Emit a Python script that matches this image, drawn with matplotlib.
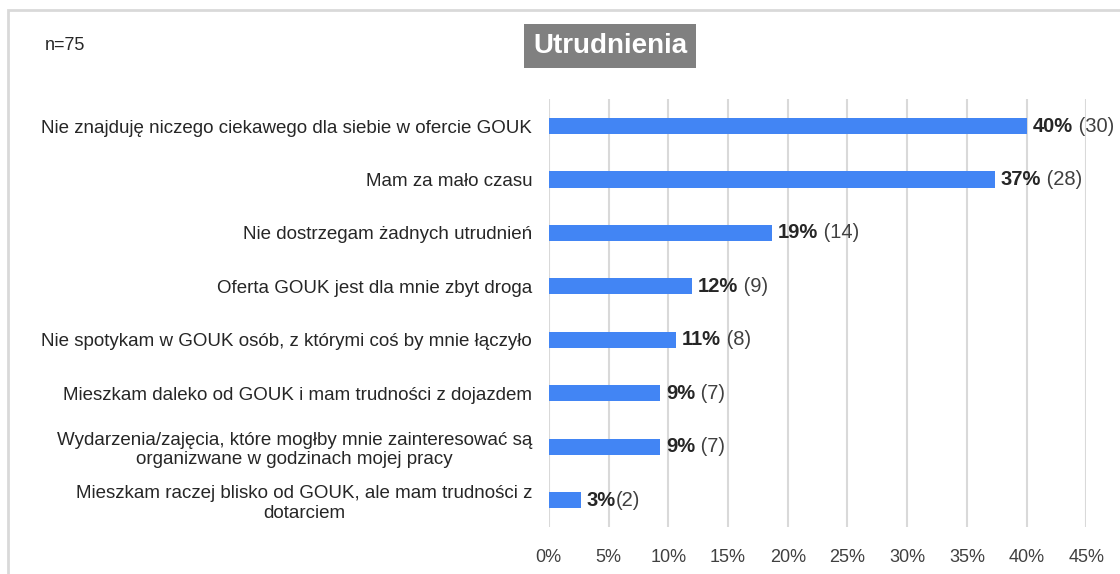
import matplotlib.pyplot as plt
from matplotlib.patches import Rectangle

# dane
n_total = 75
categories = [
    'Nie znajduję niczego ciekawego dla siebie w ofercie GOUK',
    'Mam za mało czasu',
    'Nie dostrzegam żadnych utrudnień',
    'Oferta GOUK jest dla mnie zbyt droga',
    'Nie spotykam w GOUK osób, z którymi coś by mnie łączyło',
    'Mieszkam daleko od GOUK i mam trudności z dojazdem',
    'Wydarzenia/zajęcia, które mogłby mnie zainteresować są\norganizwane w godzinach mojej pracy',
    'Mieszkam raczej blisko od GOUK, ale mam trudności z\ndotarciem',
]
counts = [30, 28, 14, 9, 8, 7, 7, 2]
pct_labels = ['40%', '37%', '19%', '12%', '11%', '9%', '9%', '3%']
count_labels = [' (30)', ' (28)', ' (14)', ' (9)', ' (8)', ' (7)', ' (7)', '(2)']
xticks = [0, 5, 10, 15, 20, 25, 30, 35, 40, 45]

plt.rcParams['font.family'] = ['Liberation Sans Narrow', 'Liberation Sans', 'DejaVu Sans']

percents = [c / n_total * 100 for c in counts]
ypos = list(range(len(categories)))

fig = plt.figure(figsize=(11.2, 5.74), dpi=100)
ax = fig.add_axes([0.490, 0.082, 0.480, 0.745])

ax.barh(ypos, percents, height=0.3, color='#4285F4', zorder=3)
ax.set_ylim(len(categories) - 0.5, -0.5)
ax.set_xlim(0, 45)
ax.set_xticks(xticks)
ax.set_xticklabels([f'{t}%' for t in xticks], fontsize=13, color='#404040')
ax.set_yticks(ypos)
ax.set_yticklabels(categories, fontsize=13.5, color='#262626', ha='right', multialignment='center')
ax.tick_params(axis='both', length=0)
ax.tick_params(axis='x', pad=16)
ax.tick_params(axis='y', pad=12)
ax.grid(axis='x', color='#D9D9D9', linewidth=1.5, zorder=0)
for s in ax.spines.values():
    s.set_visible(False)

for y, p, pl, cl in zip(ypos, percents, pct_labels, count_labels):
    t = ax.text(p + 0.5, y, pl, va='center', ha='left', fontsize=14.5,
                fontweight='bold', color='#262626')
    ax.annotate(cl, xy=(1, 0.5), xycoords=t, va='center', ha='left',
                fontsize=14.5, color='#404040')

fig.text(45 / 1120, 1 - 45 / 574, 'n=75', fontsize=13, color='#262626', va='center')
fig.text(610 / 1120, 1 - 46 / 574, 'Utrudnienia', fontsize=20, fontweight='bold',
         color='white', ha='center', va='center',
         bbox=dict(boxstyle='square,pad=0.32', fc='#808080', ec='none'))

fig.patches.append(Rectangle((8 / 1120, -0.1), 1.2, 1 - 10 / 574 + 0.1,
                             transform=fig.transFigure, fill=False,
                             ec='#D9D9D9', lw=2))

fig.savefig('out.png', dpi=100)
